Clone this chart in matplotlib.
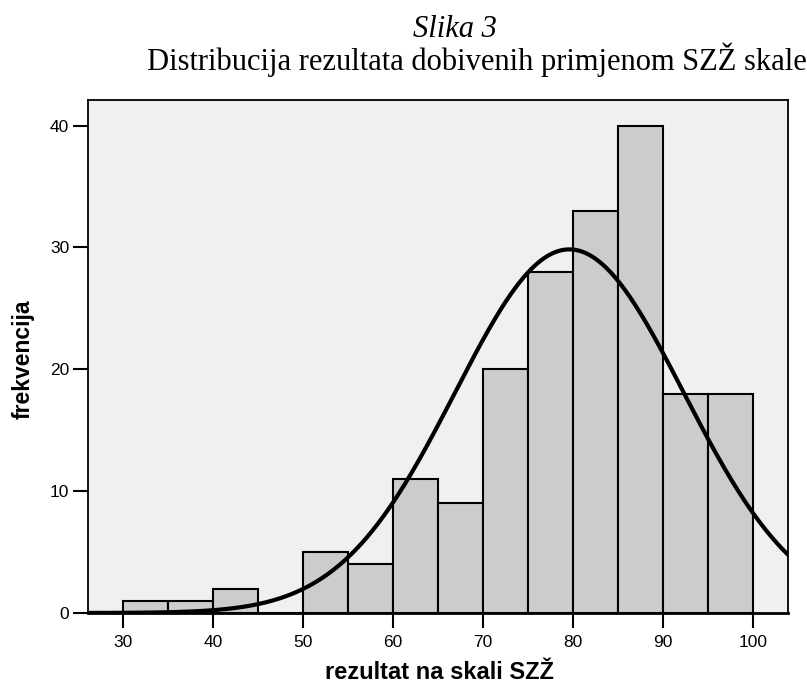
import numpy as np
import matplotlib
matplotlib.use('Agg')
from matplotlib import pyplot as plt

#--------------------------------
# DATA
#--------------------------------
bin_edges = [30, 35, 40, 45, 50, 55, 60, 65, 70, 75, 80, 85, 90, 95, 100]
counts = [1, 1, 2, 0, 5, 4, 11, 9, 20, 28, 33, 40, 18, 18]

# normal curve parameters (fitted by SPSS on the raw scores)
mean_score = 79.6
std_score = 12.7

x_ticks = [30, 40, 50, 60, 70, 80, 90, 100]
y_ticks = [0, 10, 20, 30, 40]

#--------------------------------
# PLOT
#--------------------------------
fig = plt.figure(figsize=(8.07, 6.84), dpi=100)
ax = fig.add_axes([88/807, 1-613/684, 700/807, 513/684])
ax.set_facecolor('#f0f0f0')

lefts = bin_edges[:-1]
widths = np.diff(bin_edges)
ax.bar(lefts, counts, width=widths, align='edge', color='#cccccc',
       edgecolor='black', linewidth=1.5, zorder=2)

# normal curve scaled to counts
n_total = sum(counts)
bw = widths[0]
xs = np.linspace(25, 105, 400)
ys = n_total * bw / (std_score * np.sqrt(2*np.pi)) * np.exp(-0.5*((xs-mean_score)/std_score)**2)
ax.plot(xs, ys, color='black', lw=3, zorder=3, solid_capstyle='butt')

ax.set_xlim(26.1, 103.9)
ax.set_ylim(0, 42.1)
ax.set_xticks(x_ticks)
ax.set_yticks(y_ticks)
ax.tick_params(direction='out', length=10.5, width=1.5, labelsize=12.5, colors='black')
ax.tick_params(axis='x', pad=5)
ax.tick_params(axis='y', pad=3)
for t in ax.get_xticklabels() + ax.get_yticklabels():
    t.set_family('Liberation Sans')
for s in ax.spines.values():
    s.set_linewidth(1.3)
ax.spines['bottom'].set_linewidth(2)

fig.text(23/807, 1-359/684, 'frekvencija', rotation=90, ha='center', va='center',
         fontsize=16.5, fontweight='bold', family='Liberation Sans')
fig.text(439/807, 1-679/684, 'rezultat na skali SZŽ', ha='center', va='baseline',
         fontsize=17, fontweight='bold', family='Liberation Sans')

fig.text(455/807, 1-37/684, 'Slika 3', ha='center', va='baseline',
         fontsize=22, style='italic', family='Liberation Serif')
fig.text(477/807, 1-70/684, 'Distribucija rezultata dobivenih primjenom SZŽ skale',
         ha='center', va='baseline', fontsize=22, family='Liberation Serif')

fig.savefig('out.png', dpi=100)
